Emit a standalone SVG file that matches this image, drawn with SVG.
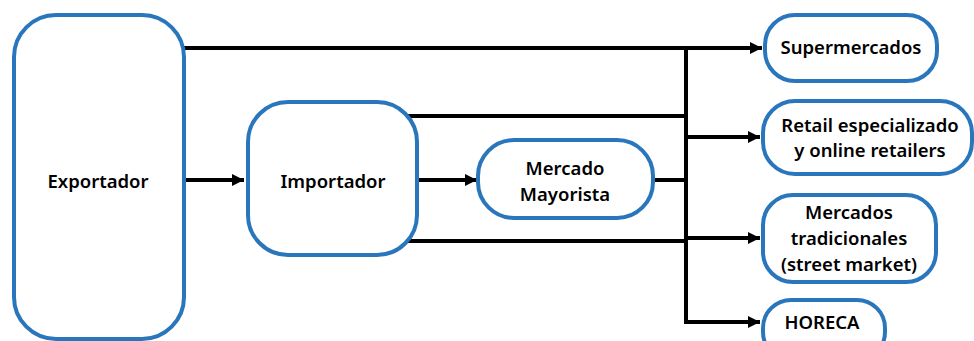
<svg xmlns="http://www.w3.org/2000/svg" width="974" height="341" viewBox="0 0 974 341">
<defs>
<marker id="ah" viewBox="0 0 10 10" refX="10" refY="5" markerWidth="3" markerHeight="3.2" orient="auto" markerUnits="strokeWidth">
<path d="M0,0 L10,5 L0,10 z" fill="#000"/>
</marker>
<style>
.box{fill:#fff;stroke:#2A76BD;stroke-width:4}
.t{font-family:"Noto Sans","Open Sans",sans-serif;font-weight:600;font-size:18.5px;fill:#000;text-anchor:middle;dominant-baseline:central}
.c{fill:none;stroke:#000;stroke-width:4}
</style>
</defs>
<rect width="974" height="341" fill="#fff"/>
<g id="connectors">
<path class="c" d="M184,48 H762" marker-end="url(#ah)"/>
<path class="c" d="M186,180 H244" marker-end="url(#ah)"/>
<path class="c" d="M418,180 H477" marker-end="url(#ah)"/>
<path class="c" d="M405,116 H686"/>
<path class="c" d="M653,180 H686"/>
<path class="c" d="M405,241 H686"/>
<path class="c" d="M686,46 V322"/>
<path class="c" d="M684,137 H760" marker-end="url(#ah)"/>
<path class="c" d="M684,238 H760" marker-end="url(#ah)"/>
<path class="c" d="M684,322 H760" marker-end="url(#ah)"/>
</g>
<g id="exportador">
<rect class="box" x="14" y="15" width="170" height="324" rx="42"/>
<text class="t" x="98" y="180">Exportador</text>
</g>
<g id="importador">
<rect class="box" x="248" y="102" width="169" height="153" rx="40"/>
<text class="t" x="333" y="180">Importador</text>
</g>
<g id="mayorista">
<rect class="box" x="478" y="140" width="175" height="78" rx="36"/>
<text class="t" x="565" y="167">Mercado</text>
<text class="t" x="565" y="193">Mayorista</text>
</g>
<g id="supermercados">
<rect class="box" x="765" y="15" width="172" height="66" rx="30"/>
<text class="t" x="851" y="46">Supermercados</text>
</g>
<g id="retail">
<rect class="box" x="763" y="101" width="209" height="73" rx="32"/>
<text class="t" x="870" y="124">Retail especializado</text>
<text class="t" x="870" y="149">y online retailers</text>
</g>
<g id="tradicionales">
<rect class="box" x="763" y="195" width="173" height="87" rx="30"/>
<text class="t" x="849" y="211">Mercados</text>
<text class="t" x="849" y="237">tradicionales</text>
<text class="t" x="849" y="263">(street market)</text>
</g>
<g id="horeca">
<rect class="box" x="763" y="300" width="122" height="60" rx="28"/>
<text class="t" x="822" y="321">HORECA</text>
</g>
</svg>
